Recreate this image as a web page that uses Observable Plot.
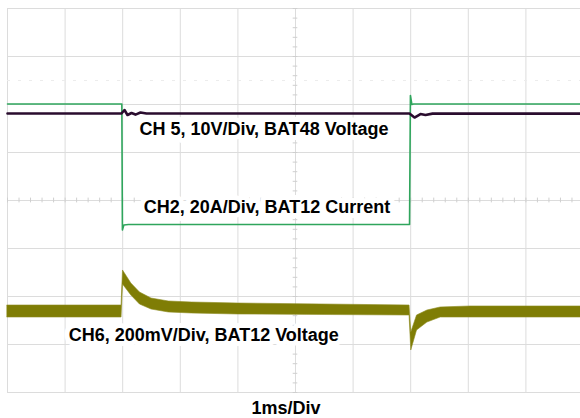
<!DOCTYPE html>
<html>
<head>
<meta charset="utf-8">
<script src="https://cdn.jsdelivr.net/npm/d3@7"></script>
<script src="https://cdn.jsdelivr.net/npm/@observablehq/plot@0.6"></script>
<style>
  html, body { margin: 0; padding: 0; background: #fff; }
  #chart { width: 580px; height: 418px; overflow: hidden; }
</style>
</head>
<body>
<div id="chart"></div>
<script>
// Time in divisions (1 ms/div), amplitude in vertical divisions (0 = bottom of screen)
const gridX = [0, 1, 2, 3, 4, 5, 6, 7, 8, 9, 10];
const gridY = [0, 1, 2, 3, 4, 5, 6, 7, 8];

// CH5 – BAT48 Voltage (dark purple)
const ch5Time = [0, 1.979, 2.031, 2.083, 2.153, 2.222, 2.309, 2.413, 6.979, 7.066, 7.17, 7.257, 7.378, 10];
const ch5Val  = [5.8125, 5.8125, 5.885, 5.781, 5.823, 5.79, 5.833, 5.8125, 5.8125, 5.729, 5.802, 5.781, 5.81, 5.81];

// CH2 – BAT12 Current (green)
const ch2Time = [0, 1.985, 1.995, 2.02, 2.1, 6.98, 6.995, 7.02, 7.05, 10];
const ch2Val  = [6.01, 6.01, 3.385, 3.49, 3.5, 3.5, 6.1875, 6.0, 6.01, 6.01];

// CH6 – BAT12 Voltage (olive), noisy band: lower / upper envelope
const ch6Time = [0, 1.98, 2.005, 2.15, 2.3, 2.5, 2.8, 3.2, 4, 6.98, 7.01, 7.11, 7.29, 7.52, 8.04, 10];
const ch6Lo   = [1.5625, 1.5625, 2.25, 2.021, 1.833, 1.729, 1.667, 1.646, 1.625, 1.604, 0.875, 1.292, 1.458, 1.5625, 1.5625, 1.5625];
const ch6Hi   = [1.8125, 1.8125, 2.542, 2.271, 2.083, 1.958, 1.896, 1.875, 1.854, 1.8125, 1.25, 1.604, 1.708, 1.771, 1.792, 1.792];

// Annotations
const labelText = ["CH 5, 10V/Div, BAT48 Voltage", "CH2, 20A/Div, BAT12 Current", "CH6, 200mV/Div, BAT12 Voltage"];
const labelTime = [2.29, 2.366, 1.064];
const labelVal  = [5.475, 3.87, 1.19];
const xAxisText = "1ms/Div";

const ch5 = ch5Time.map((t, i) => ({t, v: ch5Val[i]}));
const ch2 = ch2Time.map((t, i) => ({t, v: ch2Val[i]}));
const ch6 = ch6Time.map((t, i) => ({t, lo: ch6Lo[i], hi: ch6Hi[i]}));
const labels = labelText.map((s, i) => ({s, t: labelTime[i], v: labelVal[i]}));

// minor ticks on the centre graticule lines (5 per division)
const minorX = d3.range(0, 50.5).map(i => i / 5);
const minorY = d3.range(0, 40.5).map(i => i / 5);

const font = "'Liberation Sans', Arial, Helvetica, sans-serif";

const chart = Plot.plot({
  width: 580,
  height: 418,
  margin: 0,
  style: {background: "#fff", fontFamily: font, overflow: "visible"},
  x: {domain: [0, 10], range: [7, 583], axis: null},
  y: {domain: [0, 8], range: [392, 8], axis: null},
  marks: [
    // graticule
    Plot.ruleX(gridX, {x: d => d, y1: 0, y2: 8, stroke: "#dcdcdc", strokeWidth: 1}),
    Plot.ruleY(gridY, {y: d => d, x1: 0, x2: 10, stroke: "#dcdcdc", strokeWidth: 1}),
    Plot.ruleY([6.5], {x1: 0, x2: 10, stroke: "#ececec", strokeWidth: 1, strokeDasharray: "3,8"}),
    Plot.ruleX(minorX, {x: d => d, y1: 3.95, y2: 4.05, stroke: "#cfcfcf", strokeWidth: 1}),
    Plot.ruleY(minorY, {y: d => d, x1: 4.96, x2: 5.04, stroke: "#cfcfcf", strokeWidth: 1}),
    // CH6 noisy band
    Plot.areaY(ch6, {x: "t", y1: "lo", y2: "hi", fill: "#7f7d05", stroke: "#8d8b20", strokeWidth: 0.6}),
    // CH2 current
    Plot.line(ch2, {x: "t", y: "v", stroke: "#2fa55c", strokeWidth: 1.6}),
    // CH5 voltage
    Plot.line(ch5, {x: "t", y: "v", stroke: "#2a0c2e", strokeWidth: 2.6}),
    // labels
    Plot.text(labels, {x: "t", y: "v", text: "s", textAnchor: "start", fontSize: 18, fontWeight: "bold",
      fill: "#000", stroke: "#fff", strokeWidth: 10, strokeLinejoin: "round"}),
    Plot.text([xAxisText], {x: 4.835, y: -0.33, text: d => d, textAnchor: "middle", fontSize: 18, fontWeight: "bold", fill: "#000"})
  ]
});
document.getElementById("chart").append(chart);
</script>
</body>
</html>
